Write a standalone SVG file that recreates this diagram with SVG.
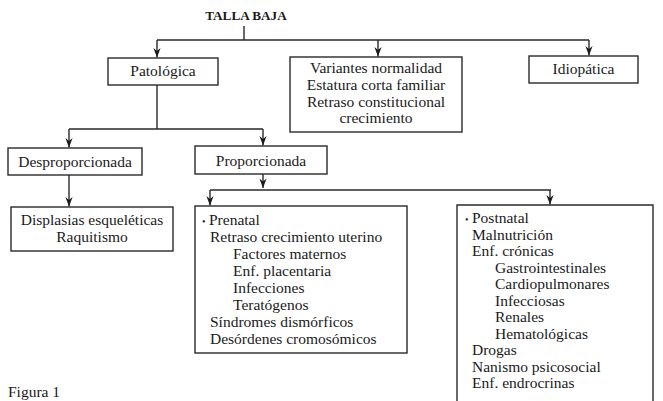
<svg xmlns="http://www.w3.org/2000/svg" width="663" height="401" viewBox="0 0 663 401">
<style>
text{font-family:"Liberation Serif","Times New Roman",serif;font-size:15.5px;fill:#1a1a1a}
.c{text-anchor:middle}
.t{font-weight:bold;font-size:13.2px}
.b{fill:#fff;stroke:#2a2a2a;stroke-width:1.4}
.l{fill:none;stroke:#2a2a2a;stroke-width:1.4}
.bu{font-size:10px}
</style>
<defs>
<marker id="ah" viewBox="-10 -5 11 10" refX="0" refY="0" markerWidth="11" markerHeight="10" markerUnits="userSpaceOnUse" orient="auto">
<path d="M0,0 L-9.5,-3.6 L-6.5,0 L-9.5,3.6 z" fill="#1a1a1a"/>
</marker>
</defs>
<rect width="663" height="401" fill="#fff"/>
<g id="connectors">
<path class="l" d="M244,26 V40 M157,40 H589"/>
<path class="l" d="M157,40 V57.5" marker-end="url(#ah)"/>
<path class="l" d="M378,40 V56.5" marker-end="url(#ah)"/>
<path class="l" d="M589,40 V55.5" marker-end="url(#ah)"/>
<path class="l" d="M157,85 V129 M69,129 H263"/>
<path class="l" d="M69,129 V147.5" marker-end="url(#ah)"/>
<path class="l" d="M263,129 V145.5" marker-end="url(#ah)"/>
<path class="l" d="M69,175 V206.5" marker-end="url(#ah)"/>
<path class="l" d="M263,174 V188" marker-end="url(#ah)"/>
<path class="l" d="M210,190 H551"/>
<path class="l" d="M210,190 V205.5" marker-end="url(#ah)"/>
<path class="l" d="M550,190 V204.5" marker-end="url(#ah)"/>
</g>
<g id="title"><text class="t c" x="246" y="20">TALLA BAJA</text></g>
<g id="patologica">
<rect class="b" x="108" y="58" width="110" height="27"/>
<text class="c" x="163" y="76">Patológica</text>
</g>
<g id="variantes">
<rect class="b" x="290" y="57" width="172" height="75"/>
<text class="c" x="376" y="73">Variantes normalidad</text>
<text class="c" x="376" y="90">Estatura corta familiar</text>
<text class="c" x="376" y="107">Retraso constitucional</text>
<text class="c" x="376" y="123">crecimiento</text>
</g>
<g id="idiopatica">
<rect class="b" x="529" y="56" width="109" height="27"/>
<text class="c" x="583.5" y="74">Idiopática</text>
</g>
<g id="desproporcionada">
<rect class="b" x="8" y="148" width="134" height="27"/>
<text class="c" x="75" y="167">Desproporcionada</text>
</g>
<g id="proporcionada">
<rect class="b" x="195" y="146" width="132" height="28"/>
<text class="c" x="261" y="166">Proporcionada</text>
</g>
<g id="displasias">
<rect class="b" x="11" y="207" width="162" height="44"/>
<text class="c" x="92" y="225">Displasias esqueléticas</text>
<text class="c" x="92" y="242">Raquitismo</text>
</g>
<g id="prenatal">
<rect class="b" x="195" y="206" width="212" height="147"/>
<text x="202" y="225"><tspan class="bu">•</tspan><tspan x="209">Prenatal</tspan></text>
<text x="210" y="242">Retraso crecimiento uterino</text>
<text x="233" y="259">Factores maternos</text>
<text x="233" y="276">Enf. placentaria</text>
<text x="233" y="293">Infecciones</text>
<text x="233" y="310">Teratógenos</text>
<text x="210" y="327">Síndromes dismórficos</text>
<text x="210" y="344">Desórdenes cromosómicos</text>
</g>
<g id="postnatal">
<path class="l" d="M457,402 V205 H653 V402"/>
<text x="465" y="223"><tspan class="bu">•</tspan><tspan x="472">Postnatal</tspan></text>
<text x="472" y="239.5">Malnutrición</text>
<text x="472" y="256">Enf. crónicas</text>
<text x="495" y="272.5">Gastrointestinales</text>
<text x="495" y="289">Cardiopulmonares</text>
<text x="495" y="305.5">Infecciosas</text>
<text x="495" y="322">Renales</text>
<text x="495" y="338.5">Hematológicas</text>
<text x="472" y="355">Drogas</text>
<text x="472" y="371.5">Nanismo psicosocial</text>
<text x="472" y="388">Enf. endrocrinas</text>
</g>
<g id="caption"><text x="8" y="396.5" font-size="14">Figura 1</text></g>
</svg>
